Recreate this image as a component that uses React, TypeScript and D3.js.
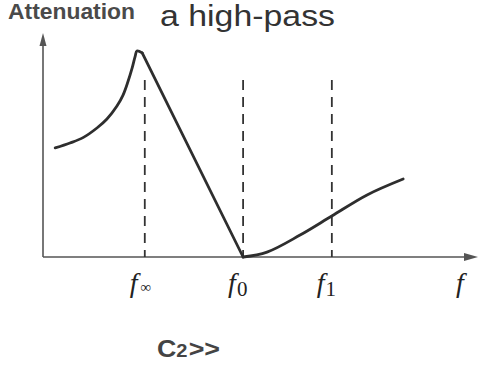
import React from 'react';
import * as d3 from 'd3';

// frequency (arbitrary units) / attenuation (arbitrary units)
const riseF = [2.8, 6.2, 9.2, 12.4, 14.7, 17.0, 18.4, 19.5, 20.5, 21.2, 21.6, 22.8];
const riseA = [48.7, 50.9, 53.3, 57.6, 61.6, 67.4, 72.3, 78.1, 84.4, 89.7, 92.0, 91.1];
const fallF = [22.8, 46.0];
const fallA = [91.1, 0];
const passF = [46.0, 51.5, 59.1, 66.4, 74.5, 82.8];
const passA = [0, 2.2, 9.8, 18.3, 27.7, 34.8];

const markF = [23.4, 46.0, 66.4];
const markSub = ['∞', '0', '1'];
const markTop = 79;

const W = 481;
const H = 371;

export default function App() {
  const x = d3.scaleLinear().domain([0, 100]).range([43, 478]);
  const y = d3.scaleLinear().domain([0, 100]).range([257, 33]);

  const smooth = d3
    .line<[number, number]>()
    .x((d) => x(d[0]))
    .y((d) => y(d[1]))
    .curve(d3.curveCatmullRom.alpha(0.5));
  const straight = d3
    .line<[number, number]>()
    .x((d) => x(d[0]))
    .y((d) => y(d[1]));

  const rise = riseF.map((f, i) => [f, riseA[i]] as [number, number]);
  const fall = fallF.map((f, i) => [f, fallA[i]] as [number, number]);
  const pass = passF.map((f, i) => [f, passA[i]] as [number, number]);

  const x0 = x(0);
  const y0 = y(0);
  const xEnd = x(100);
  const yTop = y(100);

  return (
    <svg
      width={W}
      height={H}
      style={{ position: 'absolute', left: 0, top: 0, background: '#fff' }}
    >
      {/* axes */}
      <line x1={x0} y1={y0} x2={xEnd - 8} y2={y0} stroke="#555" strokeWidth={1.6} />
      <line x1={x0} y1={y0} x2={x0} y2={yTop + 8} stroke="#555" strokeWidth={1.6} />
      <path
        d={`M${xEnd},${y0} L${xEnd - 14},${y0 - 4} L${xEnd - 14},${y0 + 4} Z`}
        fill="#555"
      />
      <path
        d={`M${x0},${yTop} L${x0 - 3.5},${yTop + 13} L${x0 + 3.5},${yTop + 13} Z`}
        fill="#555"
      />

      {/* dashed markers */}
      {markF.map((f) => (
        <line
          key={f}
          x1={x(f)}
          x2={x(f)}
          y1={y(markTop)}
          y2={y0}
          stroke="#333"
          strokeWidth={1.8}
          strokeDasharray="10,7"
        />
      ))}

      {/* curve */}
      <g fill="none" stroke="#2e2e2e" strokeWidth={2.8} strokeLinecap="round" strokeLinejoin="round">
        <path d={smooth(rise) || ''} />
        <path d={straight(fall) || ''} />
        <path d={smooth(pass) || ''} />
      </g>

      {/* tick labels */}
      {markF.map((f, i) => (
        <text
          key={'l' + f}
          x={x(f) - 15}
          y={292}
          fontFamily="Liberation Serif, serif"
          fill="#222"
        >
          <tspan fontStyle="italic" fontSize={28}>f</tspan>
          <tspan fontSize={i === 0 ? 15 : 21} dx={i === 0 ? 3 : 1} dy={i === 0 ? 0 : 4}>
            {markSub[i]}
          </tspan>
        </text>
      ))}
      <text
        x={456}
        y={292}
        fontFamily="Liberation Serif, serif"
        fontStyle="italic"
        fontSize={28}
        fill="#222"
      >
        f
      </text>

      {/* titles */}
      <text
        x={8}
        y={19}
        fontFamily="Liberation Sans, Arial, sans-serif"
        fontWeight="bold"
        fontSize={22}
        textLength={127}
        lengthAdjust="spacingAndGlyphs"
        fill="#4a4a4a"
      >
        Attenuation
      </text>
      <text
        x={160}
        y={26}
        fontFamily="Liberation Sans, Arial, sans-serif"
        fontSize={30}
        textLength={175}
        lengthAdjust="spacingAndGlyphs"
        fill="#333"
      >
        a high-pass
      </text>
      <text
        x={157}
        y={357}
        fontFamily="Liberation Sans, Arial, sans-serif"
        fontWeight="bold"
        fill="#444"
        textLength={63}
        lengthAdjust="spacingAndGlyphs"
      >
        <tspan fontSize={24}>C</tspan>
        <tspan fontSize={18}>2</tspan>
        <tspan fontSize={24} dx={1}>&gt;&gt;</tspan>
      </text>
    </svg>
  );
}
